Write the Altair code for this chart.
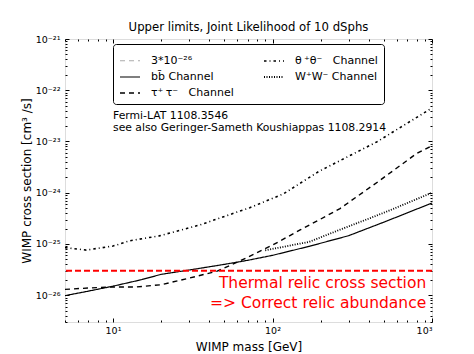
import altair as alt
import pandas as pd

# ---------------- data ----------------
mass_bb = [5, 7, 10, 15, 20, 30, 50, 70, 100, 170, 300, 520, 1000]
sigma_bb = [9.8e-27, 1.2e-26, 1.5e-26, 2.0e-26, 2.55e-26, 3.1e-26, 4.0e-26, 4.8e-26,
            6.0e-26, 9.0e-26, 1.45e-25, 2.8e-25, 6.3e-25]

mass_tau = [5, 7, 10, 14, 20, 30, 45, 62, 80, 100, 150, 200, 265, 460, 800, 1000]
sigma_tau = [1.3e-26, 1.38e-26, 1.45e-26, 1.45e-26, 1.6e-26, 2.15e-26, 2.95e-26, 4.6e-26,
             6.8e-26, 9.5e-26, 1.9e-25, 3.05e-25, 4.9e-25, 1.65e-24, 5.8e-24, 8.3e-24]

mass_theta = [5, 6.8, 10, 12.7, 19.5, 35, 72, 117, 195, 450, 1000]
sigma_theta = [8.5e-26, 7.6e-26, 9.1e-26, 1.15e-25, 1.44e-25, 2.35e-25, 5.1e-25, 9.5e-25,
               2.6e-24, 9.8e-24, 4.5e-23]

mass_ww = [90, 100, 170, 265, 410, 550, 1000]
sigma_ww = [7.5e-26, 8.0e-26, 1.1e-25, 1.9e-25, 3.2e-25, 4.6e-25, 1.0e-24]

thermal_relic = [3e-26]

# legend order (filled column by column, as in the reference)
series_names = ["3*10⁻²⁶", "bb̄ Channel", "τ⁺\u2009τ⁻\u00a0\u00a0\u00a0Channel",
                "θ\u2009⁺θ⁻\u00a0\u00a0 Channel", "W⁺W⁻ Channel"]

x_major = [10, 100, 1000]
x_minor = [5, 6, 7, 8, 9, 20, 30, 40, 50, 60, 70, 80, 90,
           200, 300, 400, 500, 600, 700, 800, 900]
y_major = [1e-26, 1e-25, 1e-24, 1e-23, 1e-22, 1e-21]
y_minor = [k * 10.0 ** e for e in range(-27, -21) for k in range(2, 10)
           if k * 10.0 ** e >= 3e-27]

note_texts = ["Fermi-LAT 1108.3546", "see also Geringer-Sameth Koushiappas 1108.2914"]
relic_texts = ["Thermal relic cross section", "=> Correct relic abundance"]

# ---------------- tables ----------------
rows = []
for name, ms, ss in [(series_names[1], mass_bb, sigma_bb),
                     (series_names[2], mass_tau, sigma_tau),
                     (series_names[3], mass_theta, sigma_theta),
                     (series_names[4], mass_ww, sigma_ww)]:
    rows += [{"series": name, "mass": m, "sigma": s} for m, s in zip(ms, ss)]
df = pd.DataFrame(rows)

notes_df = pd.DataFrame({"label": note_texts, "mass": [10, 10], "sigma": [3.2e-23, 1.8e-23]})
relic_df = pd.DataFrame({"label": relic_texts, "mass": [920, 920], "sigma": [1.74e-26, 7.06e-27]})
rule_df = pd.DataFrame({"sigma": thermal_relic})

FONT = "DejaVu Sans"
xs = alt.Scale(type="log", domain=[5, 1000], nice=False)
ys = alt.Scale(type="log", domain=[3e-27, 1e-21], nice=False)

x_label_expr = "datum.value == 10 ? '10¹' : datum.value == 100 ? '10²' : '10³'"
y_label_expr = ("datum.value < 2e-26 ? '10⁻²⁶' : datum.value < 2e-25 ? '10⁻²⁵' : "
                "datum.value < 2e-24 ? '10⁻²⁴' : datum.value < 2e-23 ? '10⁻²³' : "
                "datum.value < 2e-22 ? '10⁻²²' : '10⁻²¹'")


def tick_axis(orient, values, size):
    return alt.Axis(orient=orient, values=values, tickSize=size, offset=-size,
                    labels=False, domain=False, grid=False, title=None,
                    ticks=True, tickColor="black", tickWidth=1, minExtent=0)


legend = alt.Legend(title=None, orient="none", legendX=48, legendY=5, columns=2,
                    direction="vertical",
                    symbolType="stroke", symbolSize=400, labelFontSize=11,
                    labelFont=FONT, labelOffset=10, columnPadding=26, rowPadding=-6,
                    padding=6, strokeColor="black", cornerRadius=3, fillColor="white",
                    labelLimit=300)

lines = alt.Chart(df).mark_line(clip=True).encode(
    x=alt.X("mass:Q", scale=xs,
            axis=alt.Axis(orient="bottom", values=x_major, labelExpr=x_label_expr,
                          ticks=False, tickSize=0, domain=False, grid=False,
                          labelPadding=3, labelFontSize=9.5,
                          title="WIMP mass [GeV]", titleFontSize=12,
                          titleFontWeight="normal", titleY=28,
                          titleBaseline="alphabetic")),
    y=alt.Y("sigma:Q", scale=ys,
            axis=alt.Axis(orient="left", values=y_major, labelExpr=y_label_expr,
                          ticks=False, tickSize=0, domain=False, grid=False,
                          labelPadding=5, labelFontSize=9.5,
                          title="WIMP cross section [cm³ /s]", titleFontSize=12,
                          titleFontWeight="normal", titleX=-35,
                          titleBaseline="alphabetic")),
    color=alt.Color("series:N", scale=alt.Scale(domain=series_names,
                    range=["#aaaaaa", "black", "black", "black", "black"]), legend=legend),
    strokeDash=alt.StrokeDash("series:N", scale=alt.Scale(domain=series_names,
                              range=[[5, 4], [1, 0], [5, 4], [2.5, 3, 1, 3], [1, 1.5]]),
                              legend=legend),
    strokeWidth=alt.StrokeWidth("series:N", scale=alt.Scale(domain=series_names,
                                range=[1, 1.8, 2, 1.2, 1]), legend=legend),
)


def tick_layer(xa, ya):
    return alt.Chart(df).mark_point(opacity=0, size=1).encode(
        x=alt.X("mass:Q", scale=xs, axis=xa),
        y=alt.Y("sigma:Q", scale=ys, axis=ya),
    )


t1 = tick_layer(tick_axis("bottom", x_major, 4), tick_axis("left", y_major, 4))
t2 = tick_layer(tick_axis("bottom", x_minor, 2), tick_axis("left", y_minor, 2))
t3 = tick_layer(tick_axis("top", x_major, 4), tick_axis("right", y_major, 4))
t4 = tick_layer(tick_axis("top", x_minor, 2), tick_axis("right", y_minor, 2))

relic_rule = alt.Chart(rule_df).mark_rule(color="#ff0000", strokeDash=[6, 3],
                                          strokeWidth=1.8).encode(
    y=alt.Y("sigma:Q", scale=ys, axis=None))

notes = alt.Chart(notes_df).mark_text(align="left", baseline="middle", fontSize=10.8,
                                      font=FONT, color="black").encode(
    x=alt.X("mass:Q", scale=xs, axis=None),
    y=alt.Y("sigma:Q", scale=ys, axis=None),
    text="label:N")

relic = alt.Chart(relic_df).mark_text(align="right", baseline="middle", fontSize=15.5,
                                      font=FONT, color="#ff0000").encode(
    x=alt.X("mass:Q", scale=xs, axis=None),
    y=alt.Y("sigma:Q", scale=ys, axis=None),
    text="label:N")

chart = alt.layer(lines, t1, t2, t3, t4, relic_rule, notes, relic).resolve_axis(
    x="independent", y="independent"
).properties(
    width=367, height=283,
    autosize=alt.AutoSizeParams(type="none"),
    padding={"left": 65, "top": 39, "right": 42, "bottom": 32},
    title=alt.TitleParams("Upper limits, Joint Likelihood of 10 dSphs", fontSize=11.7,
                          font=FONT, fontWeight="normal", anchor="middle", offset=6,
                          dy=15, baseline="alphabetic"),
    background="white",
).configure_view(stroke="black", strokeWidth=1).configure(font=FONT).configure_axis(
    labelFont=FONT, titleFont=FONT, labelColor="black", titleColor="black")

chart.save("out.html", embed_options={"renderer": "svg", "actions": False})
